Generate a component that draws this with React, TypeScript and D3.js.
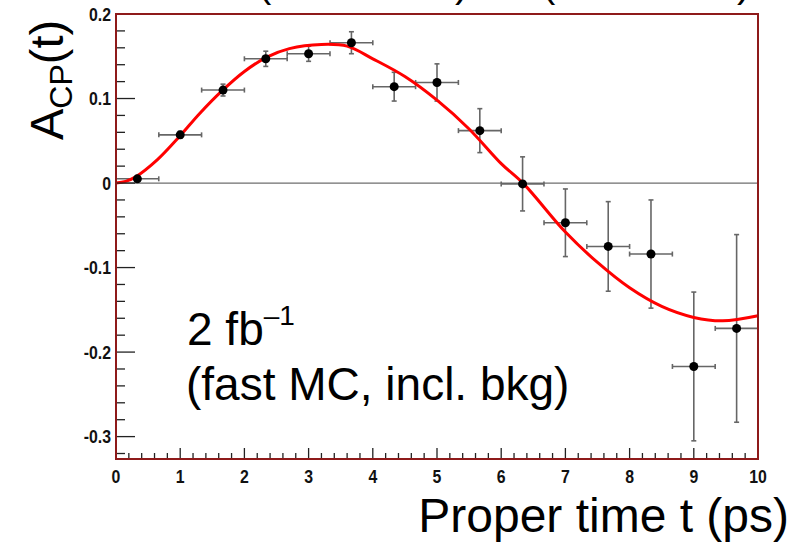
import React from "react";
import * as d3 from "d3";

// ---- data ----
const binCenters = [0.333, 1.0, 1.667, 2.333, 3.0, 3.667, 4.333, 5.0, 5.667, 6.333, 7.0, 7.667, 8.333, 9.0, 9.667];
const asymValues = [0.005, 0.057, 0.110, 0.147, 0.153, 0.166, 0.114, 0.119, 0.062, -0.001, -0.047, -0.075, -0.084, -0.217, -0.172];
const asymErrors = [0.002, 0.004, 0.007, 0.009, 0.009, 0.013, 0.017, 0.022, 0.026, 0.032, 0.040, 0.053, 0.064, 0.088, 0.111];
const binHalfWidths = [0.333, 0.333, 0.333, 0.333, 0.333, 0.333, 0.333, 0.333, 0.333, 0.333, 0.333, 0.333, 0.333, 0.333, 0.333];

const fitT = [0, 0.15, 0.3, 0.65, 1.0, 1.3, 1.65, 2.0, 2.35, 2.7, 3.2, 3.6, 4.0, 4.5, 5.0, 5.5, 6.0, 6.35, 7.0, 7.5, 8.0, 8.5, 9.0, 9.45, 10.0];
const fitA = [0, 0.002, 0.007, 0.028, 0.056, 0.082, 0.109, 0.132, 0.149, 0.159, 0.164, 0.162, 0.147, 0.126, 0.098, 0.064, 0.023, -0.001, -0.058, -0.094, -0.124, -0.146, -0.159, -0.163, -0.157];

const xTickValues = [0, 1, 2, 3, 4, 5, 6, 7, 8, 9, 10];
const yTickValues = [-0.3, -0.2, -0.1, 0, 0.1, 0.2];
const yTickLabels = ["-0.3", "-0.2", "-0.1", "0", "0.1", "0.2"];

const W = 804;
const H = 545;
const plot = { left: 116, right: 758, top: 14, bottom: 459 };

export default function App() {
  const x = d3.scaleLinear().domain([0, 10]).range([plot.left, plot.right]);
  const y = d3.scaleLinear().domain([-0.3265, 0.2]).range([plot.bottom, plot.top]);

  const xMinor = d3.range(0, 10.0001, 0.2).filter((v) => Math.abs(v - Math.round(v)) > 1e-6);
  const yMinor = d3.range(-0.32, 0.2001, 0.02).filter((v) => Math.abs(v * 10 - Math.round(v * 10)) > 1e-6);

  const fitLine = d3
    .line<number>()
    .x((_, i) => x(fitT[i]))
    .y((d) => y(d))
    .curve(d3.curveCatmullRom.alpha(0.5));

  const errColor = "#666";
  const cap = 2.5;
  const font = "'Liberation Sans', Arial, Helvetica, sans-serif";

  return (
    <svg
      width={W}
      height={H}
      style={{ position: "fixed", left: 0, top: 0, background: "#fff" }}
      fontFamily={font}
    >
      <rect x={0} y={0} width={W} height={H} fill="#fff" />

      {/* cut-off title remnants at the very top (as in the reference) */}
      <g fontSize={40} fill="#000">
        <text x={258} y={-3}>(</text>
        <text x={455} y={-3}>)</text>
        <text x={542} y={-3}>(</text>
        <text x={737} y={-3}>)</text>
      </g>

      {/* zero line */}
      <line x1={plot.left} x2={plot.right} y1={y(0)} y2={y(0)} stroke="#6e6e6e" strokeWidth={1.2} />

      {/* error bars */}
      <g stroke={errColor} strokeWidth={1.6}>
        {binCenters.map((c, i) => {
          const cx = x(c);
          const cy = y(asymValues[i]);
          const xl = x(c - binHalfWidths[i]);
          const xr = x(c + binHalfWidths[i]);
          const yt = y(asymValues[i] + asymErrors[i]);
          const yb = y(asymValues[i] - asymErrors[i]);
          return (
            <g key={i}>
              <line x1={xl} x2={xr} y1={cy} y2={cy} />
              <line x1={xl} x2={xl} y1={cy - cap} y2={cy + cap} />
              <line x1={xr} x2={xr} y1={cy - cap} y2={cy + cap} />
              <line x1={cx} x2={cx} y1={yt} y2={yb} />
              <line x1={cx - cap} x2={cx + cap} y1={yt} y2={yt} />
              <line x1={cx - cap} x2={cx + cap} y1={yb} y2={yb} />
            </g>
          );
        })}
      </g>

      {/* fitted curve */}
      <path d={fitLine(fitA) || ""} fill="none" stroke="#ff0000" strokeWidth={3} />

      {/* markers */}
      <g fill="#000">
        {binCenters.map((c, i) => (
          <circle key={i} cx={x(c)} cy={y(asymValues[i])} r={4.5} />
        ))}
      </g>

      {/* y ticks */}
      <g stroke="#222" strokeWidth={1.3}>
        {yTickValues.map((v) => (
          <line key={"ym" + v} x1={plot.left} x2={plot.left + 19} y1={y(v)} y2={y(v)} />
        ))}
        {yMinor.map((v) => (
          <line key={"yn" + v} x1={plot.left} x2={plot.left + 9} y1={y(v)} y2={y(v)} />
        ))}
      </g>
      {/* x ticks */}
      <g stroke="#222" strokeWidth={1.3}>
        {xTickValues.map((v) => (
          <line key={"xm" + v} x1={x(v)} x2={x(v)} y1={plot.bottom} y2={plot.bottom - 11} />
        ))}
        {xMinor.map((v) => (
          <line key={"xn" + v} x1={x(v)} x2={x(v)} y1={plot.bottom} y2={plot.bottom - 6} />
        ))}
      </g>

      {/* frame */}
      <rect
        x={plot.left}
        y={plot.top}
        width={plot.right - plot.left}
        height={plot.bottom - plot.top}
        fill="none"
        stroke="#8e1a1a"
        strokeWidth={2}
      />

      {/* tick labels */}
      <g fontSize={18} fontWeight="bold" fill="#111">
        {yTickValues.map((v, i) => (
          <text
            key={"yl" + v}
            transform={`translate(${plot.left - 5},${y(v) + 6.5}) scale(0.88,1)`}
            textAnchor="end"
          >
            {yTickLabels[i]}
          </text>
        ))}
        {xTickValues.map((v) => (
          <text key={"xl" + v} transform={`translate(${x(v)},${483}) scale(0.88,1)`} textAnchor="middle">
            {String(v)}
          </text>
        ))}
      </g>

      {/* axis titles */}
      <text x={789} y={532} fontSize={48} textAnchor="end" fill="#000">
        Proper time t (ps)
      </text>
      <text transform="translate(63,140) rotate(-90)" fontSize={47} fill="#000">
        A
        <tspan fontSize={32} dy={9}>CP</tspan>
        <tspan dy={-9}>(t)</tspan>
      </text>

      {/* annotation */}
      <text x={187} y={345} fontSize={46} fill="#000">
        2 fb
        <tspan fontSize={28} dy={-20}>–1</tspan>
      </text>
      <text x={186} y={400} fontSize={46} fill="#000">
        (fast MC, incl. bkg)
      </text>
    </svg>
  );
}
